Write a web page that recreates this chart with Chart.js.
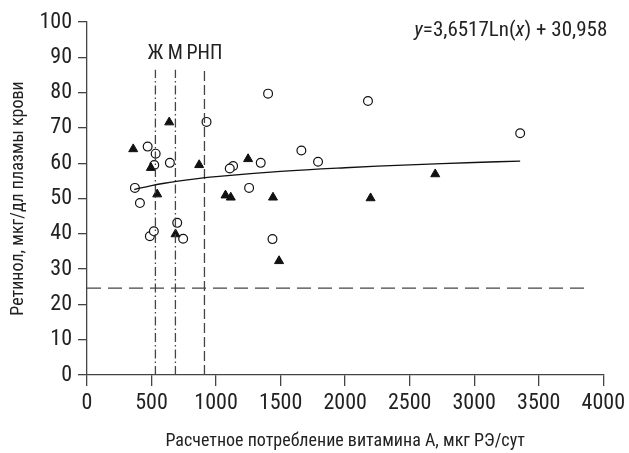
<!DOCTYPE html>
<html>
<head>
<meta charset="utf-8">
<script src="https://cdn.jsdelivr.net/npm/chart.js@4"></script>
<style>
  html, body { margin: 0; padding: 0; background: #fff; }
  #wrap { width: 629px; height: 453px; }
</style>
</head>
<body>
<div id="wrap"><canvas id="chart"></canvas></div>
<script>
// Open circles
const circleX = [1403, 926, 470, 532, 521, 642, 1132, 1106, 1346, 1661, 1790, 371, 1256, 410, 487, 518, 699, 745, 1437, 2177, 3356];
const circleY = [79.7, 71.7, 64.7, 62.7, 59.5, 60.1, 59.2, 58.5, 60.1, 63.6, 60.4, 53.0, 53.0, 48.7, 39.3, 40.7, 43.1, 38.6, 38.5, 77.6, 68.5];

// Filled triangles
const triangleX = [358, 637, 495, 869, 1248, 544, 1073, 1114, 1441, 686, 1488, 2698, 2197];
const triangleY = [64.0, 71.6, 58.7, 59.5, 61.2, 51.2, 50.9, 50.3, 50.3, 39.9, 32.3, 56.9, 50.1];

// Trend line y = 3,6517Ln(x) + 30,958
const trendX = [366, 400, 500, 600, 750, 1000, 1500, 2000, 2500, 3000, 3356];
const trendY = [52.51, 52.84, 53.65, 54.32, 55.13, 56.18, 57.66, 58.71, 59.53, 60.20, 60.60];

// Reference lines
const refLabels = ["Ж", "М", "РНП"];
const refX = [530, 685, 910];
const refTop = 86.5;
const limitY = 24.6;
const limitEnd = 3900;

const xTicks = [0, 500, 1000, 1500, 2000, 2500, 3000, 3500, 4000];
const yTicks = [0, 10, 20, 30, 40, 50, 60, 70, 80, 90, 100];

const FONT = "'Roboto Condensed', 'Liberation Sans Narrow', 'DejaVu Sans Condensed', sans-serif";
const INK = "#222";
const LINE = "#444";

const toPoints = (xs, ys) => xs.map((x, i) => ({ x: x, y: ys[i] }));

// Label for the reference lines and the equation
const textPlugin = {
  id: "textPlugin",
  afterDraw(chart) {
    const ctx = chart.ctx;
    const xs = chart.scales.x;
    const ys = chart.scales.y;
    ctx.save();
    ctx.fillStyle = INK;
    ctx.textBaseline = "middle";
    ctx.textAlign = "center";
    ctx.font = "20px " + FONT;
    refLabels.forEach((label, i) => {
      ctx.fillText(label, xs.getPixelForValue(refX[i]), ys.getPixelForValue(90.8));
    });

    // equation, right aligned
    const parts = [
      ["y", "italic 21px " + FONT],
      ["=3,6517Ln(", "21px " + FONT],
      ["x", "italic 21px " + FONT],
      [") + 30,958", "21px " + FONT],
    ];
    let total = 0;
    parts.forEach((p) => {
      ctx.font = p[1];
      total += ctx.measureText(p[0]).width;
    });
    let x = chart.chartArea.right + 4 - total;
    const y = ys.getPixelForValue(97.6);
    ctx.textAlign = "left";
    parts.forEach((p) => {
      ctx.font = p[1];
      ctx.fillText(p[0], x, y);
      x += ctx.measureText(p[0]).width;
    });
    ctx.restore();
  },
};

const datasets = [
  {
    label: "trend",
    type: "line",
    data: toPoints(trendX, trendY),
    borderColor: "#111",
    borderWidth: 1.3,
    pointRadius: 0,
    tension: 0.4,
    fill: false,
  },
  {
    label: "limit",
    type: "line",
    data: [{ x: 0, y: limitY }, { x: limitEnd, y: limitY }],
    borderColor: LINE,
    borderWidth: 1.3,
    borderDash: [14, 7],
    pointRadius: 0,
    fill: false,
  },
];

refX.forEach((rx, i) => {
  datasets.push({
    label: refLabels[i],
    type: "line",
    data: [{ x: rx, y: 0 }, { x: rx, y: refTop }],
    borderColor: LINE,
    borderWidth: 1.3,
    borderDash: i < 2 ? [9, 3, 1.5, 3] : [10, 4],
    pointRadius: 0,
    fill: false,
  });
});

datasets.push({
  label: "triangles",
  data: toPoints(triangleX, triangleY),
  pointStyle: "triangle",
  pointRadius: 5.2,
  backgroundColor: "#111",
  borderColor: "#111",
  borderWidth: 1,
});

datasets.push({
  label: "circles",
  data: toPoints(circleX, circleY),
  pointStyle: "circle",
  pointRadius: 4.4,
  backgroundColor: "#fff",
  borderColor: "#111",
  borderWidth: 1.2,
});

new Chart(document.getElementById("chart"), {
  type: "scatter",
  data: { datasets: datasets },
  plugins: [textPlugin],
  options: {
    responsive: true,
    maintainAspectRatio: false,
    animation: false,
    layout: { padding: { top: 22, right: 23, left: 8, bottom: 0 } },
    plugins: {
      legend: { display: false },
      tooltip: { enabled: false },
    },
    scales: {
      x: {
        type: "linear",
        min: 0,
        max: 4000,
        afterBuildTicks: (scale) => {
          scale.ticks = xTicks.map((v) => ({ value: v }));
        },
        afterFit: (scale) => {
          scale.height = 78;
        },
        ticks: {
          color: INK,
          font: { family: FONT, size: 22 },
          padding: 4,
          maxRotation: 0,
          callback: (v) => String(v),
        },
        grid: {
          drawOnChartArea: false,
          drawTicks: true,
          tickLength: 11,
          color: LINE,
          lineWidth: 1.3,
        },
        border: { display: true, color: LINE, width: 1.3 },
        title: {
          display: true,
          text: "Расчетное потребление витамина А, мкг РЭ/сут",
          color: INK,
          font: { family: FONT, size: 18 },
          padding: { top: 6, bottom: 1 },
        },
      },
      y: {
        type: "linear",
        min: 0,
        max: 100,
        afterBuildTicks: (scale) => {
          scale.ticks = yTicks.map((v) => ({ value: v }));
        },
        afterFit: (scale) => {
          scale.width = 79;
        },
        ticks: {
          color: INK,
          font: { family: FONT, size: 22 },
          padding: 6,
          callback: (v) => String(v),
        },
        grid: {
          drawOnChartArea: false,
          drawTicks: true,
          tickLength: 9,
          color: LINE,
          lineWidth: 1.3,
        },
        border: { display: true, color: LINE, width: 1.3 },
        title: {
          display: true,
          text: "Ретинол, мкг/дл плазмы крови",
          color: INK,
          font: { family: FONT, size: 18 },
          padding: { top: 0, bottom: 2 },
        },
      },
    },
  },
});
</script>
</body>
</html>
